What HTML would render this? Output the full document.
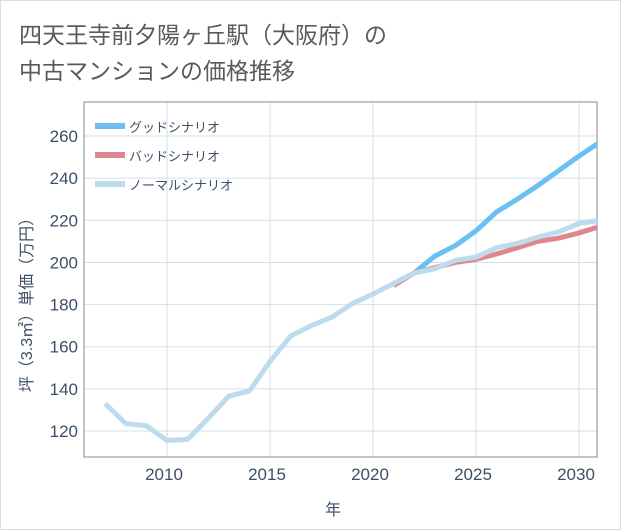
<!DOCTYPE html>
<html><head><meta charset="utf-8"><style>
body{margin:0;background:#fff;}
#wrap{position:relative;width:619px;height:528px;border:1px solid #d5dde5;background:#fff;font-family:"Liberation Sans","Noto Sans CJK JP",sans-serif;}
#title{position:absolute;left:18px;top:16px;font-size:23px;line-height:36px;color:#5a5a5a;}
svg text{font-family:"Liberation Sans","Noto Sans CJK JP",sans-serif;}
</style></head><body>
<div id="wrap">
<div id="title">四天王寺前夕陽ヶ丘駅（大阪府）の<br>中古マンションの価格推移</div>
<svg id="chart" width="619" height="528" style="position:absolute;left:0;top:0"></svg>
</div>
<script>
const years=[2007,2008,2009,2010,2011,2012,2013,2014,2015,2016,2017,2018,2019,2020,2021,2022,2023,2024,2025,2026,2027,2028,2029,2030,2031];
const normal=[133,123.5,122.5,115.5,116,126,136.5,139,153,165,170,174,180.5,185,190,195,197,201,202.5,207,209,212,214.5,218.5,220];
const goodYears=[2021,2022,2023,2024,2025,2026,2027,2028,2029,2030,2031];
const good=[190,195,203,208,215,224,230,236.5,243.5,250.5,257];
const bad=[189,195,197.5,200,201.5,204,207,210,211.5,214,217];
const xTicks=[2010,2015,2020,2025,2030];
const yTicks=[120,140,160,180,200,220,240,260];
const L=83,R=596,T=101,B=456;
const X=v=>166+(v-2010)*20.6;
const Y=v=>430-(v-120)*2.107;
const svg=document.getElementById('chart');const NS='http://www.w3.org/2000/svg';
function mk(t,a,p){const e=document.createElementNS(NS,t);for(const k in a)e.setAttribute(k,a[k]);(p||svg).appendChild(e);return e;}
xTicks.forEach(v=>{const l=mk('line',{x1:X(v),x2:X(v),y1:T,y2:B,stroke:'#d3e0ea'});
const t=mk('text',{x:X(v)-3,y:479,'text-anchor':'middle','font-size':17,fill:'#3d4f66'});t.textContent=v;});
yTicks.forEach(v=>{const l=mk('line',{x1:L,x2:R,y1:Y(v),y2:Y(v),stroke:'#d3e0ea'});
const t=mk('text',{x:77,y:Y(v)+6,'text-anchor':'end','font-size':17,fill:'#3d4f66'});t.textContent=v;});
const fr=mk('rect',{x:L,y:T,width:R-L,height:B-T,fill:'none',stroke:'#888'});
const cp=mk('clipPath',{id:'cp'});mk('rect',{x:L,y:T,width:R-L,height:B-T},cp);
function line(xs,ys,c,name){const p=mk('polyline',{points:xs.map((x,i)=>X(x)+','+Y(ys[i])).join(' '),fill:'none',stroke:c,'stroke-width':5,'stroke-linejoin':'round','clip-path':'url(#cp)'});}
line(goodYears,good,'#6cbff2','good-scenario-line');
line(goodYears,bad,'#e0868e','bad-scenario-line');
line(years,normal,'#bcdcee','normal-scenario-line');
const leg=[['グッドシナリオ','#6cbff2'],['バッドシナリオ','#e0868e'],['ノーマルシナリオ','#bcdcee']];
leg.forEach((d,i)=>{const g=mk('g',{});
mk('rect',{x:94,y:122+i*29,width:30,height:6,fill:d[1]},g);
const t=mk('text',{x:128,y:131+i*29,'font-size':13,fill:'#3d4f66'},g);t.textContent=d[0];});
const xt=mk('text',{x:332,y:514,'text-anchor':'middle','font-size':16,fill:'#3d4f66'});xt.textContent='年';
const yt=mk('text',{x:0,y:0,'text-anchor':'middle','font-size':16,fill:'#3d4f66',transform:'translate(31,300) rotate(-90)'});yt.textContent='坪（3.3㎡）単価（万円）';
</script>
</body></html>
